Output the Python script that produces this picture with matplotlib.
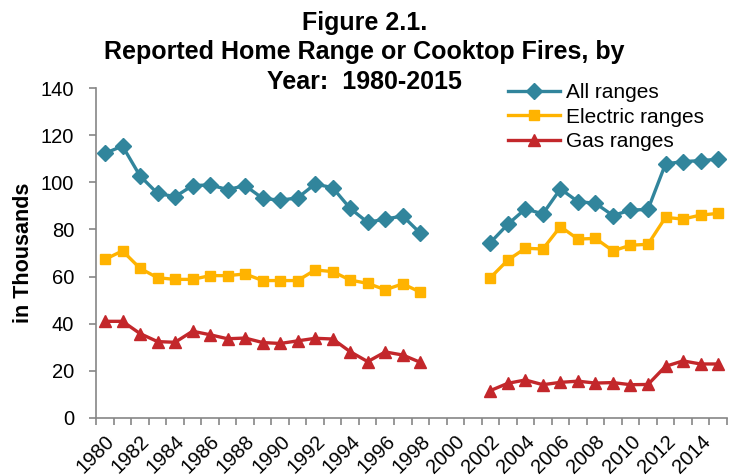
import numpy as np
import matplotlib
matplotlib.use('Agg')
import matplotlib.pyplot as plt

plt.rcParams['font.family'] = ['Liberation Sans', 'DejaVu Sans']

years = list(range(1980, 2016))
nan = np.nan

all_ranges = [112.3, 115.4, 102.7, 95.3, 93.9, 98.6, 98.9, 96.9, 98.6, 93.2,
              92.4, 93.4, 99.3, 97.7, 88.9, 83.0, 84.4, 85.7, 78.4,
              nan, nan, nan,
              74.4, 82.2, 88.7, 86.6, 97.2, 91.8, 91.1, 85.9, 88.2, 88.5,
              107.8, 108.8, 109.2, 109.8]
electric = [67.3, 70.9, 63.5, 59.5, 58.8, 58.8, 60.4, 60.4, 61.1, 58.3,
            58.3, 58.3, 62.8, 62.1, 58.5, 57.1, 54.4, 56.9, 53.4,
            nan, nan, nan,
            59.5, 67.0, 72.0, 71.7, 81.2, 75.9, 76.2, 70.9, 73.3, 73.7,
            85.1, 84.4, 86.1, 86.8]
gas = [41.0, 41.0, 35.8, 32.4, 32.1, 36.8, 35.3, 33.6, 33.9, 32.0,
       31.6, 32.7, 33.8, 33.5, 28.1, 23.9, 28.0, 26.7, 23.6,
       nan, nan, nan,
       11.6, 14.7, 16.1, 14.1, 15.1, 15.6, 14.8, 15.0, 14.1, 14.2,
       21.9, 24.2, 22.9, 22.9]

title_lines = ['Figure 2.1.',
               'Reported Home Range or Cooktop Fires, by',
               'Year:  1980-2015']

x = np.arange(len(years))

fig = plt.figure(figsize=(7.29, 4.76), dpi=100)
ax = fig.add_axes([0.132, 0.122, 0.865, 0.693])

ax.plot(x, all_ranges, color='#31859C', lw=2.4, marker='D', markersize=8,
        label='All ranges')
ax.plot(x, electric, color='#FFB300', lw=2.4, marker='s', markersize=7,
        label='Electric ranges')
ax.plot(x, gas, color='#C3272B', lw=2.4, marker='^', markersize=8.5,
        label='Gas ranges')

ax.set_xlim(-0.5, len(years) - 0.5)
ax.set_ylim(0, 140)
ax.set_yticks(range(0, 141, 20))
ax.set_xticks(x[::2])
ax.set_xticklabels([str(y) for y in years[::2]], rotation=45, ha='right',
                   rotation_mode='anchor')
ax.set_xticks(np.arange(-0.5, len(years)), minor=True)
ax.tick_params(axis='x', which='major', length=0, pad=10, labelsize=14.5)
ax.tick_params(axis='x', which='minor', length=5, color='#868686', width=1.2)
ax.tick_params(axis='y', length=5, color='#868686', width=1.2, labelsize=14.5,
               pad=11)

for s in ['top', 'right']:
    ax.spines[s].set_visible(False)
for s in ['left', 'bottom']:
    ax.spines[s].set_color('#868686')
    ax.spines[s].set_linewidth(1.2)

ax.set_ylabel('in Thousands', fontsize=15.5, fontweight='bold', labelpad=5)

# title as three lines, placed one by one
for line, ypx in zip(title_lines, [23, 52, 82]):
    fig.text(0.5, 1 - ypx / 476, line, ha='center', va='center',
             fontsize=18, fontweight='bold')

fig.legend(loc='upper left', bbox_to_anchor=(0.697, 0.826), frameon=False,
           fontsize=15, handlelength=2.5, handletextpad=0.3,
           labelspacing=0.28, borderpad=0, borderaxespad=0)

fig.savefig('out.png', dpi=100)
